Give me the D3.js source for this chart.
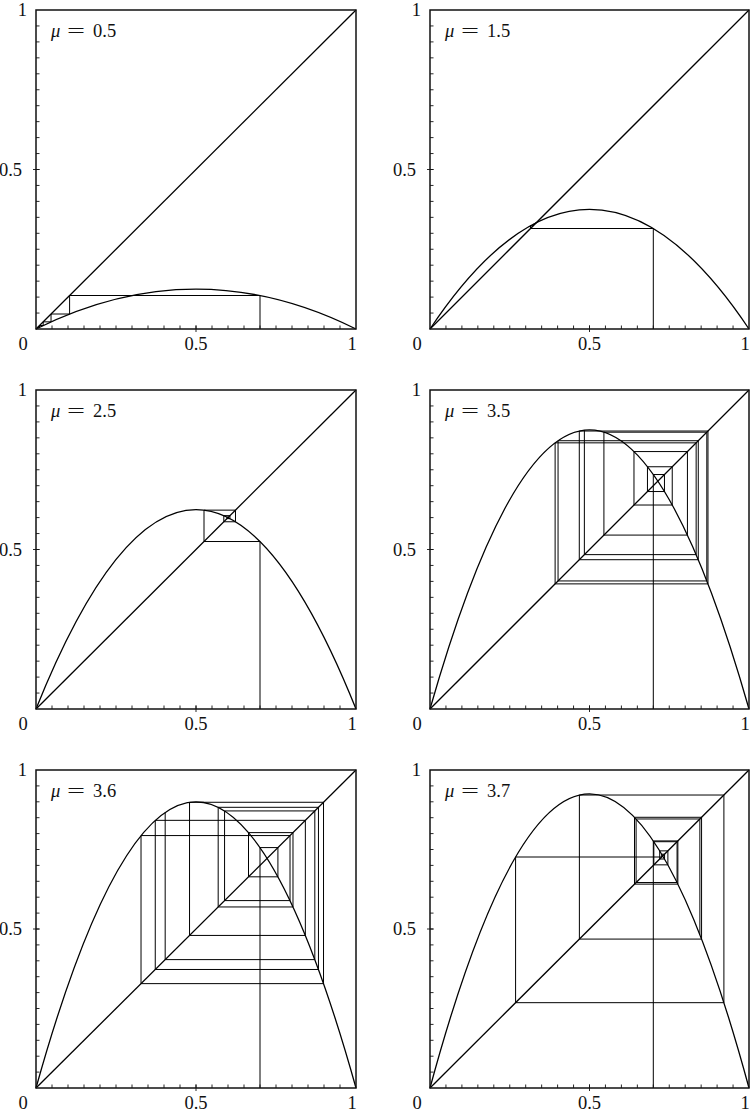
<!DOCTYPE html>
<html><head><meta charset="utf-8">
<script src="https://cdn.jsdelivr.net/npm/d3@7"></script>
<style>
  html, body { margin: 0; padding: 0; background: #fff; }
  svg { display: block; }
</style>
</head><body>
<svg id="chart" width="752" height="1115"></svg>
<script>
// Logistic map x -> mu * x * (1 - x): one panel per growth rate.
const muValues = [0.5, 1.5, 2.5, 3.5, 3.6, 3.7];
const muLabels = ["0.5", "1.5", "2.5", "3.5", "3.6", "3.7"];

// Orbits x0..x15 starting from x0 = 0.7, one per panel.
const orbit05 = [0.7000, 0.1050, 0.0470, 0.0224, 0.0109, 0.0054, 0.0027, 0.0013, 0.0007, 0.0003, 0.0002, 0.0001, 0.0000, 0.0000, 0.0000, 0.0000];
const orbit15 = [0.7000, 0.3150, 0.3237, 0.3284, 0.3308, 0.3321, 0.3327, 0.3330, 0.3332, 0.3333, 0.3333, 0.3333, 0.3333, 0.3333, 0.3333, 0.3333];
const orbit25 = [0.7000, 0.5250, 0.6234, 0.5869, 0.6061, 0.5968, 0.6016, 0.5992, 0.6004, 0.5998, 0.6001, 0.6000, 0.6000, 0.6000, 0.6000, 0.6000];
const orbit35 = [0.7000, 0.7350, 0.6817, 0.7594, 0.6394, 0.8070, 0.5452, 0.8678, 0.4014, 0.8410, 0.4680, 0.8714, 0.3922, 0.8343, 0.4839, 0.8741];
const orbit36 = [0.7000, 0.7560, 0.6641, 0.8031, 0.5693, 0.8827, 0.3727, 0.8417, 0.4798, 0.8985, 0.3282, 0.7938, 0.5893, 0.8713, 0.4037, 0.8666];
const orbit37 = [0.7000, 0.7770, 0.6411, 0.8513, 0.4683, 0.9213, 0.2683, 0.7264, 0.7353, 0.7201, 0.7457, 0.7017, 0.7745, 0.6461, 0.8460, 0.4821];
const orbits = [orbit05, orbit15, orbit25, orbit35, orbit36, orbit37];

// Axis ticks and labels
const majorTicks = [0, 0.5, 1];
const xTickLabels = ["0", "0.5", "1"];
const yTickLabels = ["", "0.5", "1"];
const minorTicks = d3.range(1, 20).map(i => i / 20);

// Panel frames in pixels (columns, rows)
const colX = [[36, 356], [430, 749]];
const rowY = [[10, 329], [390, 709], [770, 1088]];

const FONT = "'Liberation Serif', 'DejaVu Serif', serif";
const FS = 18.5;

const svg = d3.select("#chart");

function label(g, xPos, yPos, txt, anchor) {
  return g.append("text").attr("x", xPos).attr("y", yPos)
    .attr("text-anchor", anchor).attr("font-family", FONT).attr("font-size", FS)
    .attr("fill", "#111").text(txt);
}

muValues.forEach((mu, i) => {
  const [x0, x1] = colX[i % 2];
  const [y0, y1] = rowY[Math.floor(i / 2)];
  const x = d3.scaleLinear().domain([0, 1]).range([x0, x1]);
  const y = d3.scaleLinear().domain([0, 1]).range([y1, y0]);
  const g = svg.append("g");

  // Cobweb: (x0,0) -> (x0,x1) -> (x1,x1) -> (x1,x2) -> ... ending on a vertical step
  const orb = orbits[i];
  const web = [[orb[0], 0]];
  for (let k = 0; k < orb.length - 1; k++) {
    web.push([orb[k], orb[k + 1]]);
    if (k < orb.length - 2) web.push([orb[k + 1], orb[k + 1]]);
  }
  const line = d3.line().x(d => x(d[0])).y(d => y(d[1]));
  g.append("path").attr("d", line(web))
    .attr("fill", "none").attr("stroke", "#000").attr("stroke-width", 1.0);

  // Diagonal y = x
  g.append("path").attr("d", line([[0, 0], [1, 1]]))
    .attr("fill", "none").attr("stroke", "#000").attr("stroke-width", 1.3);

  // Parabola mu*x*(1-x) as a quadratic Bezier with apex control point (0.5, mu/2)
  const p = d3.path();
  p.moveTo(x(0), y(0));
  p.quadraticCurveTo(x(0.5), y(mu / 2), x(1), y(0));
  g.append("path").attr("d", p.toString())
    .attr("fill", "none").attr("stroke", "#000").attr("stroke-width", 1.3);

  // Frame
  g.append("rect").attr("x", x(0)).attr("y", y(1))
    .attr("width", x(1) - x(0)).attr("height", y(0) - y(1))
    .attr("fill", "none").attr("stroke", "#111").attr("stroke-width", 1.5);

  // Minor ticks (inward) on bottom and left axes
  g.selectAll(".mx").data(minorTicks).join("line")
    .attr("x1", d => x(d)).attr("x2", d => x(d))
    .attr("y1", y(0)).attr("y2", y(0) - 3.5)
    .attr("stroke", "#111").attr("stroke-width", 0.9);
  g.selectAll(".my").data(minorTicks).join("line")
    .attr("y1", d => y(d)).attr("y2", d => y(d))
    .attr("x1", x(0)).attr("x2", x(0) + 3.5)
    .attr("stroke", "#111").attr("stroke-width", 0.9);
  // Major tick at 0.5 crosses the axis
  g.append("line").attr("x1", x(0.5)).attr("x2", x(0.5))
    .attr("y1", y(0) + 3).attr("y2", y(0) - 3.5)
    .attr("stroke", "#111").attr("stroke-width", 0.9);
  g.append("line").attr("y1", y(0.5)).attr("y2", y(0.5))
    .attr("x1", x(0) - 3).attr("x2", x(0) + 3.5)
    .attr("stroke", "#111").attr("stroke-width", 0.9);

  // x tick labels
  const xOff = [-13, 0, -4];
  majorTicks.forEach((t, j) => label(g, x(t) + xOff[j], y(0) + 21, xTickLabels[j], "middle"));
  // y tick labels
  const yOff = [0, -14, -9];
  majorTicks.forEach((t, j) => {
    if (yTickLabels[j]) label(g, x(0) + yOff[j], y(t) + 6, yTickLabels[j], "end");
  });

  // Parameter label: italic mu, a wide equals sign, then the value
  label(g, x(0) + 15, y(1) + 27, "\u03bc", "start").attr("font-style", "italic");
  label(g, x(0) + 31, y(1) + 27, "=", "start")
    .attr("textLength", 18).attr("lengthAdjust", "spacingAndGlyphs");
  label(g, x(0) + 57, y(1) + 27, muLabels[i], "start");
});
</script>
</body></html>
